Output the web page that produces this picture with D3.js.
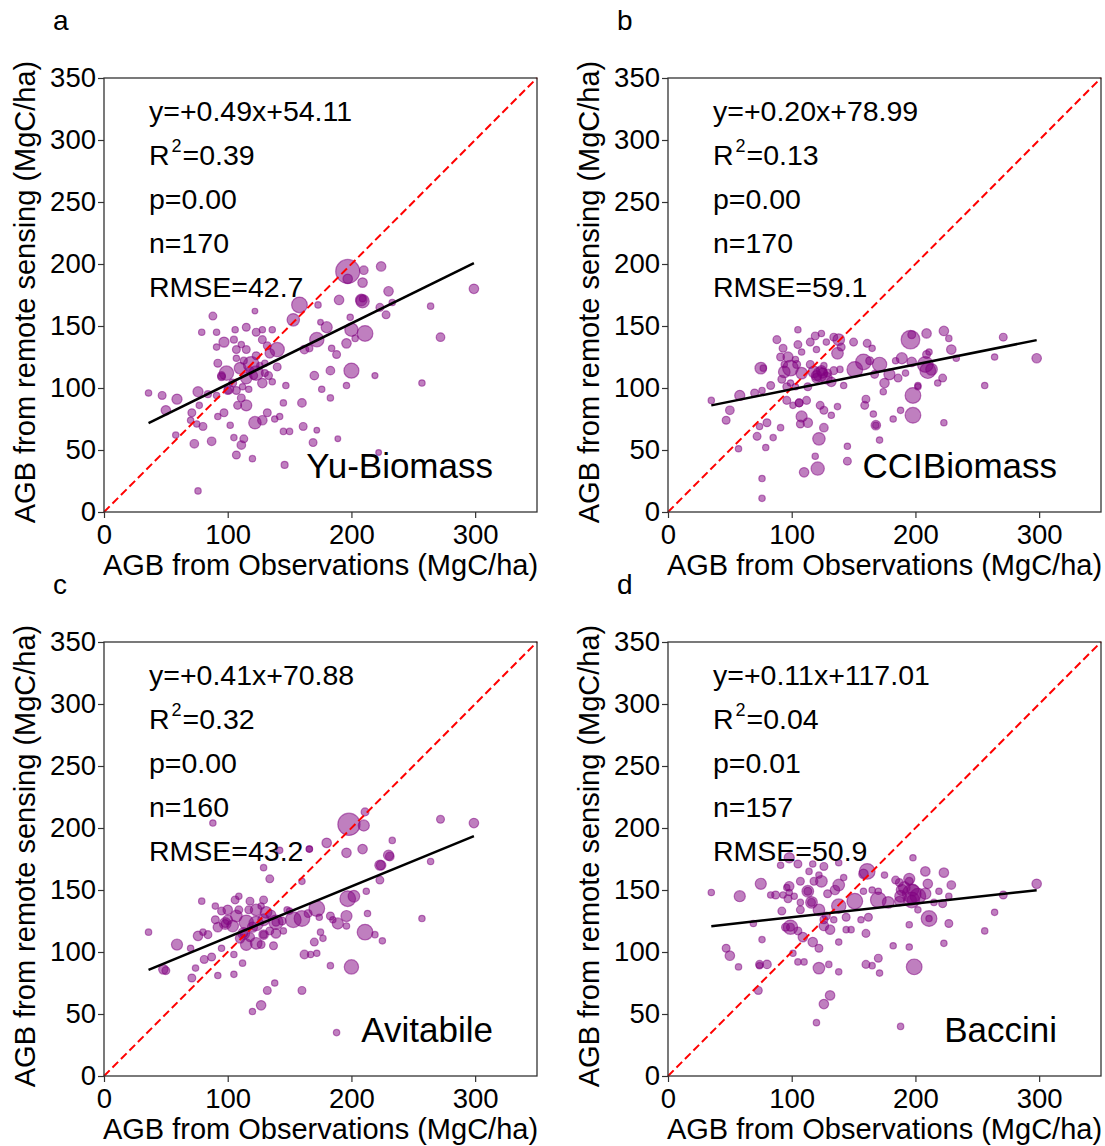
<!DOCTYPE html>
<html>
<head>
<meta charset="utf-8">
<script src="https://cdn.jsdelivr.net/npm/d3@7"></script>
<style>
body { margin: 0; background: #fff; }
svg text { font-family: "Liberation Sans", Arial, Helvetica, sans-serif; fill: #000; }
</style>
</head>
<body>
<svg id="chart" width="1105" height="1146"></svg>
<script>
// each point: [AGB from observations, AGB from remote sensing, size weight]
const yuPoints = [
  [36,96,1],[47,94,1.5],[59,91,2.5],[50,82,2.2],[76,97,2.5],[77,86,1],[71,80,1.5],[70,74,1],[75,71,1],[80,69,1.5],
  [58,62,1],[73,55,1.8],[87,57,1.8],[76,17,1],[107,46,1.5],[113,59,1.5],[111,54,1.8],[120,43,1],[105,60,1],[146,38,1.2],
  [145,65,1],[150,65,1],[161,69,1.5],[169,56,1.5],[172,66,0.8],[189,59,0.8],[222,48,0.8],[122,72,3.8],[128,74,2.2],[132,80,1.5],
  [138,75,1],[142,77,1],[115,86,3],[108,86,1.5],[102,70,1],[92,77,1],[97,80,1.5],[91,94,1],[84,95,1.2],[101,99,2.2],
  [107,98,1.5],[111,92,1.5],[117,99,1],[145,88,1],[160,88,1.8],[147,102,1],[170,110,1.8],[176,99,1],[183,92,1],[183,114,1.8],
  [196,102,1],[200,114,5.5],[219,110,0.9],[188,127,1.5],[184,132,1],[196,136,2.2],[211,144,6],[200,147,4.3],[203,140,1],[172,139,5],
  [180,149,3],[175,153,0.8],[199,157,1],[162,131,1.8],[166,132,1.2],[158,167,6],[153,155,3.8],[173,167,1],[190,171,2.2],[208,171,3.3],
  [209,172,1],[197,194,14],[197,188,2.2],[209,185,2.2],[210,195,1.8],[224,198,2.2],[230,178,2.2],[228,159,1.5],[223,165,1.5],[233,169,1],
  [209,170,4.3],[299,180,2.2],[264,166,1],[272,141,1.8],[257,104,1],[122,162,0.8],[88,158,1.5],[79,145,1],[91,145,1],[97,137,2.5],
  [106,147,1],[115,149,1.5],[123,145,1.5],[128,147,1],[136,147,1],[105,139,1.2],[111,135,1],[128,139,1.5],[132,134,1.5],[91,133,1],
  [107,131,1.5],[115,131,1.5],[123,126,1.5],[140,131,5],[134,128,2.2],[107,124,1],[92,120,1.5],[99,112,5],[110,116,3.3],[119,119,6],
  [123,112,5],[115,108,3.3],[128,104,2.2],[133,110,1.5],[140,117,1.5],[136,105,1],[95,109,1.5],[95,110,1.5],[104,104,1.5],[112,101,1],
  [100,98,1.5],[118,114,1.5],[121,110,1.5],[126,118,1],[113,122,1.2],[130,112,1.2],[130,120,1]
];

const cciPoints = [
  [35,90,1],[50,82,1.8],[47,74,1.5],[58,94,2.5],[70,96,1.5],[76,98,1],[75,116,3.3],[77,116,1],[83,102,1.5],[80,72,1.5],
  [74,69,1],[72,61,1.5],[85,60,1],[91,68,1],[79,52,1],[57,51,1],[76,27,1],[76,11,1],[110,32,2.2],[121,35,4.3],
  [119,45,1],[122,59,3.8],[126,68,1.8],[145,53,1],[145,41,1.5],[108,77,3],[107,71,1.5],[113,72,2.2],[101,86,1],[106,88,1.5],
  [106,88,1.5],[112,90,1.5],[123,86,1.5],[126,82,1.5],[132,78,1],[137,85,1],[159,86,1.5],[160,91,1.5],[166,79,1],[168,70,2.2],
  [168,70,1],[171,58,1],[182,75,1],[188,82,1],[198,78,6],[198,94,6],[202,101,1],[223,72,1],[96,101,1.5],[99,104,1],
  [96,90,1.5],[103,101,1],[113,101,1.5],[120,108,2.2],[142,102,1],[174,97,1],[175,104,2.2],[167,111,1.5],[179,111,3],[186,108,1.5],
  [192,112,1],[92,107,1.5],[94,113,3.3],[99,116,6],[94,119,1],[104,119,1.5],[108,112,3.3],[118,113,3.3],[123,111,5],[125,112,2.5],
  [128,108,3.3],[132,105,2.2],[134,114,1.5],[126,118,1],[115,119,1.5],[139,115,1],[137,128,3.3],[140,133,1.5],[138,139,3.3],[134,141,1.5],
  [128,137,1],[124,144,1],[119,142,1.5],[115,137,1.5],[120,131,1],[105,147,1],[105,135,1.5],[108,129,1],[97,125,2.5],[93,132,1.5],
  [88,139,1.5],[91,125,1.5],[103,123,1],[150,137,1.5],[161,136,1.5],[165,132,1],[158,121,6],[151,115,6],[171,119,5],[163,122,1.5],
  [184,122,1],[189,124,3],[197,121,2.2],[208,119,6],[213,115,3.3],[209,127,1.5],[211,129,1],[222,108,1.5],[229,131,2.2],[227,140,1],
  [223,146,2.2],[209,144,2.2],[196,139,8.5],[197,143,1.5],[298,124,2.2],[271,141,1.5],[264,125,1],[256,102,1],[218,104,1],[210,114,6],
  [233,124,1],[202,102,1],[124,114,2.5],[120,110,2.5],[129,112,1.5]
];

const avitabilePoints = [
  [36,116,1],[59,106,3],[70,103,1],[76,113,2.2],[84,114,1.5],[80,116,1],[48,86,2.2],[50,85,1.5],[71,79,1.5],[74,87,1],
  [81,94,1.5],[87,96,1.5],[92,81,1],[105,82,1],[105,98,1],[112,91,1],[95,103,1],[138,75,1],[132,69,1.5],[127,57,2.2],
  [120,52,1],[160,69,1.5],[188,35,1],[183,89,1],[200,88,5],[162,98,1.8],[167,98,1],[172,99,1],[170,108,1.5],[177,111,1],
  [175,116,1],[183,129,1.5],[189,123,3],[196,121,1],[196,129,3],[185,126,1],[174,128,1],[172,135,6],[160,127,6],[153,126,6],
  [165,131,1.5],[150,133,1],[145,117,1],[139,115,2.2],[137,105,1.5],[127,106,1.5],[123,107,3.3],[115,106,3.3],[110,111,2.2],[129,114,2.2],
  [129,114,1.2],[134,117,1.5],[113,115,3.3],[113,115,1.5],[104,121,3.3],[98,123,3.3],[98,123,1.5],[92,120,2.2],[90,126,1.5],[100,126,2.2],
  [107,129,3.3],[115,124,5],[123,123,5],[129,126,3.3],[139,124,5],[139,124,1.5],[135,130,2.2],[144,125,1.5],[131,132,3.3],[123,134,3.3],
  [117,134,1.5],[109,134,1.5],[100,134,2.2],[95,133,1.5],[90,137,1],[79,141,1],[106,142,1.5],[118,141,1.5],[129,142,1.5],[127,137,1],
  [109,145,1],[148,134,1],[134,159,1.5],[129,168,1],[160,157,1],[166,183,1],[180,188,2.2],[196,180,2.2],[209,183,2.2],[198,203,12],
  [210,202,3],[211,213,1.5],[88,204,1],[224,170,2.2],[231,177,1.8],[233,190,1],[223,158,1.5],[212,149,1],[213,131,1],[211,116,6],
  [219,114,1],[225,109,1],[202,145,3.3],[197,143,6],[142,182,1],[299,204,2.2],[272,207,1.5],[264,173,1],[257,127,1],[230,178,2.5],
  [223,170,2.5],[166,183,1],[120,120,2.5],[118,112,2]
];

const bacciniPoints = [
  [35,148,1],[58,145,3],[47,103,1.5],[50,97,2.2],[57,88,1],[74,90,1.5],[74,89,1],[80,90,1.8],[73,69,1.5],[76,110,1],
  [69,123,1],[75,155,3],[83,146,1],[87,146,1.5],[93,146,1],[98,148,1],[96,152,1],[91,170,1],[98,176,2.5],[98,153,2.2],
  [105,171,1.5],[107,157,1.5],[97,143,1.5],[102,145,1],[107,140,1],[113,149,3.3],[113,149,1.5],[116,140,3.3],[116,140,1.5],[118,157,1.5],
  [124,157,3.3],[122,162,1],[129,147,1.5],[135,150,2.2],[138,154,3.3],[142,160,1],[138,172,1],[126,169,1.5],[117,171,1],[114,165,1],
  [92,133,1.5],[107,134,1.5],[122,134,3.3],[128,129,1.5],[138,137,5],[144,128,1.5],[151,141,6],[156,126,1],[162,128,1.5],[170,142,6],
  [178,140,3.3],[187,141,2.2],[188,145,3.3],[197,142,6],[197,142,2.2],[202,145,6],[208,147,3],[198,150,3.3],[189,150,3],[195,157,1.5],
  [210,155,2.2],[211,127,6],[211,127,1],[227,123,1.5],[223,107,1],[195,122,1],[195,104,1],[182,105,1],[199,88,6],[170,95,1.5],
  [171,83,1],[165,89,1],[160,90,1.5],[138,84,1],[130,90,1],[122,87,3.3],[110,92,1],[105,92,1],[101,99,1],[122,103,1.5],
  [117,108,2.2],[109,112,2.2],[105,117,1.5],[99,120,5],[99,120,1.5],[95,120,1.5],[126,121,2.2],[131,118,2.2],[126,126,1.5],[134,126,1],
  [138,108,1],[144,118,1],[148,118,1],[160,115,1.5],[187,156,1.5],[175,162,1],[184,158,1.5],[161,165,6],[158,163,2.2],[198,176,1],
  [165,150,1],[158,149,1],[170,149,1],[131,65,2.2],[126,58,2.2],[120,43,1],[188,40,1],[223,164,2.2],[229,154,1.8],[227,145,1],
  [219,149,1],[298,155,2.2],[271,146,1.5],[264,132,1],[256,117,1],[222,139,1.5],[215,140,1],[202,134,1],[208,165,2.2],[197,147,8.5],
  [195,159,3],[191,152,3.3]
];

const panelPoints = [yuPoints, cciPoints, avitabilePoints, bacciniPoints];
const panelLetters = ['a', 'b', 'c', 'd'];
const productNames = ['Yu-Biomass', 'CCIBiomass', 'Avitabile', 'Baccini'];
const slopes = [0.49, 0.20, 0.41, 0.11];
const intercepts = [54.11, 78.99, 70.88, 117.01];
const r2Values = ['0.39', '0.13', '0.32', '0.04'];
const pValues = ['0.00', '0.00', '0.00', '0.01'];
const nValues = [170, 170, 160, 157];
const rmseValues = ['42.7', '59.1', '43.2', '50.9'];
const xTicks = [0, 100, 200, 300];
const yTicks = [0, 50, 100, 150, 200, 250, 300, 350];

const plotW = 433, plotH = 434;
const origins = [[104, 78], [668, 78], [104, 642], [668, 642]];

const svg = d3.select("#chart");

const x = d3.scaleLinear().domain([0, 350]).range([0, plotW]);
const y = d3.scaleLinear().domain([0, 350]).range([plotH, 0]);
const r = d3.scaleSqrt().domain([0, 14]).range([0, 12]);

panelPoints.forEach((points, i) => {
  const [left, top] = origins[i];
  const g = svg.append("g").attr("transform", `translate(${left},${top})`);

  // axes
  const xAxis = g.append("g")
    .attr("transform", `translate(0,${plotH})`)
    .call(d3.axisBottom(x).tickValues(xTicks).tickSize(6).tickPadding(6));
  const yAxis = g.append("g")
    .call(d3.axisLeft(y).tickValues(yTicks).tickSize(6).tickPadding(2));
  [xAxis, yAxis].forEach(a => {
    a.select(".domain").remove();
    a.selectAll("line").attr("stroke", "#333").attr("stroke-width", 1.2);
    a.selectAll("text").attr("font-size", 27.5).attr("font-family", null);
  });

  // points
  g.append("g").selectAll("circle")
    .data(points)
    .join("circle")
    .attr("cx", d => x(d[0]))
    .attr("cy", d => y(d[1]))
    .attr("r", d => r(d[2]))
    .attr("fill", "purple")
    .attr("fill-opacity", 0.5)
    .attr("stroke", "purple")
    .attr("stroke-opacity", 0.5)
    .attr("stroke-width", 1.2);

  // 1:1 line
  g.append("line")
    .attr("x1", x(0)).attr("y1", y(0))
    .attr("x2", x(350)).attr("y2", y(350))
    .attr("stroke", "red")
    .attr("stroke-width", 2)
    .attr("stroke-dasharray", "8,4");

  // regression line over the observed range
  const [xMin, xMax] = d3.extent(points, d => d[0]);
  g.append("line")
    .attr("x1", x(xMin)).attr("y1", y(slopes[i] * xMin + intercepts[i]))
    .attr("x2", x(xMax)).attr("y2", y(slopes[i] * xMax + intercepts[i]))
    .attr("stroke", "black")
    .attr("stroke-width", 2.5);

  // frame
  g.append("rect")
    .attr("width", plotW).attr("height", plotH)
    .attr("fill", "none")
    .attr("stroke", "#333")
    .attr("stroke-width", 1.3);

  // stats text
  const tx = 45, ty = 43, step = 44, fs = 28.5;
  g.append("text").attr("x", tx).attr("y", ty).attr("font-size", fs)
    .text(`y=+${slopes[i].toFixed(2)}x+${intercepts[i].toFixed(2)}`);
  const r2 = g.append("text").attr("x", tx).attr("y", ty + step).attr("font-size", fs);
  r2.append("tspan").text("R");
  r2.append("tspan").attr("font-size", 18).attr("dx", 2).attr("dy", -13).text("2");
  r2.append("tspan").attr("dx", 1).attr("dy", 13).text(`=${r2Values[i]}`);
  g.append("text").attr("x", tx).attr("y", ty + step * 2).attr("font-size", fs).text(`p=${pValues[i]}`);
  g.append("text").attr("x", tx).attr("y", ty + step * 3).attr("font-size", fs).text(`n=${nValues[i]}`);
  g.append("text").attr("x", tx).attr("y", ty + step * 4).attr("font-size", fs).text(`RMSE=${rmseValues[i]}`);

  // product name
  g.append("text")
    .attr("x", 389).attr("y", 400)
    .attr("text-anchor", "end")
    .attr("font-size", 35)
    .text(productNames[i]);

  // axis titles
  g.append("text")
    .attr("x", plotW / 2).attr("y", plotH + 63)
    .attr("text-anchor", "middle")
    .attr("font-size", 29)
    .text("AGB from Observations (MgC/ha)");
  g.append("text")
    .attr("transform", `translate(-69,${plotH / 2 - 3}) rotate(-90)`)
    .attr("text-anchor", "middle")
    .attr("font-size", 29)
    .text("AGB from remote sensing (MgC/ha)");

  // panel letter
  g.append("text")
    .attr("x", -51).attr("y", -48)
    .attr("font-size", 28)
    .text(panelLetters[i]);
});
</script>
</body>
</html>
